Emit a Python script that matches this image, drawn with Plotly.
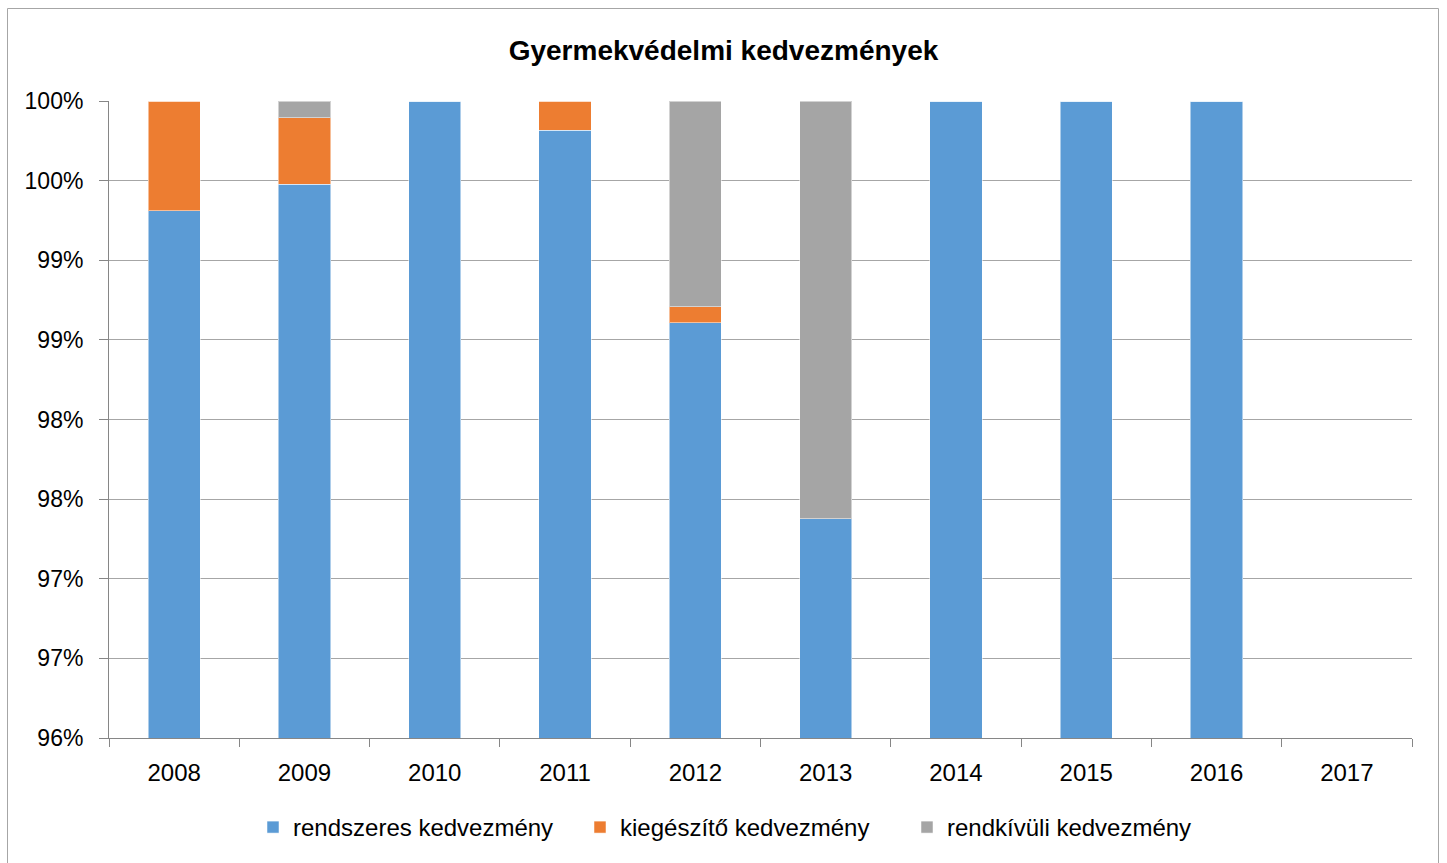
import plotly.graph_objects as go

years = ["2008", "2009", "2010", "2011", "2012", "2013", "2014", "2015", "2016", "2017"]
rendszeres = [0.99312, 0.99478, 1.0, 0.99815, 0.98608, 0.97378, 1.0, 1.0, 1.0, None]
kiegeszito = [0.00688, 0.00417, 0.0, 0.00185, 0.00100, 0.0, 0.0, 0.0, 0.0, None]
rendkivuli = [0.0, 0.00105, 0.0, 0.0, 0.01292, 0.02622, 0.0, 0.0, 0.0, None]

series_names = ["rendszeres kedvezmény", "kiegészítő kedvezmény", "rendkívüli kedvezmény"]
colors = ["#5B9BD5", "#ED7D31", "#A5A5A5"]

y_tickvals = [0.96, 0.965, 0.97, 0.975, 0.98, 0.985, 0.99, 0.995, 1.0]
y_ticktext = ["96%", "97%", "97%", "98%", "98%", "99%", "99%", "100%", "100%"]

FONT = "Liberation Sans, Arial, sans-serif"

W, H = 1447, 863
L, R, T, B = 109, 35, 101, 125
PW, PH = W - L - R, H - T - B

fig = go.Figure()
for name, vals, col in zip(series_names, [rendszeres, kiegeszito, rendkivuli], colors):
    fig.add_trace(go.Bar(
        x=years, y=vals, name=name,
        marker=dict(color=col, line=dict(color="rgba(255,255,255,0.5)", width=1)),
    ))

fig.update_layout(
    width=W, height=H,
    barmode="stack", bargap=0.6,
    paper_bgcolor="white", plot_bgcolor="white",
    margin=dict(l=L, r=R, t=T, b=B, autoexpand=False),
    font=dict(family=FONT, size=23, color="#000000"),
    title=dict(text="<b>Gyermekvédelmi kedvezmények</b>", x=0.5, xanchor="center",
               y=1 - 50 / H, yref="container", yanchor="middle",
               font=dict(family=FONT, size=28, color="#000000")),
    legend=dict(orientation="h", x=0.5 - 17 / PW, xanchor="center", y=-(805 - 738) / PH, yanchor="top",
                font=dict(family=FONT, size=24), traceorder="normal",
                entrywidth=282, entrywidthmode="pixels"),
    showlegend=True,
)

fig.update_xaxes(
    type="category", showgrid=False, showline=True, linecolor="#868686", linewidth=1,
    ticks="outside", tickson="boundaries", ticklen=8, tickcolor="#868686",
    tickfont=dict(family=FONT, size=24), ticklabelstandoff=13, automargin=False,
)
fig.update_yaxes(
    range=[0.96, 1.0], tickvals=y_tickvals, ticktext=y_ticktext,
    showgrid=True, gridcolor="#A6A6A6", gridwidth=1,
    showline=True, linecolor="#868686", linewidth=1,
    ticks="outside", ticklen=9, tickcolor="#868686",
    tickfont=dict(family=FONT, size=23), ticklabelstandoff=11,
    zeroline=False, automargin=False,
)

fig.add_shape(type="rect", xref="paper", yref="paper",
              x0=-(L - 7.5) / PW, x1=1 + (1438.5 - (W - R)) / PW,
              y0=-(870 - (H - B)) / PH, y1=1 + (T - 8.5) / PH,
              line=dict(color="#A6A6A6", width=1), fillcolor="rgba(0,0,0,0)", layer="below")

fig.write_html("out.html", config={"displayModeBar": False},
               post_script="document.body.style.margin='0';document.body.style.overflow='hidden';")
